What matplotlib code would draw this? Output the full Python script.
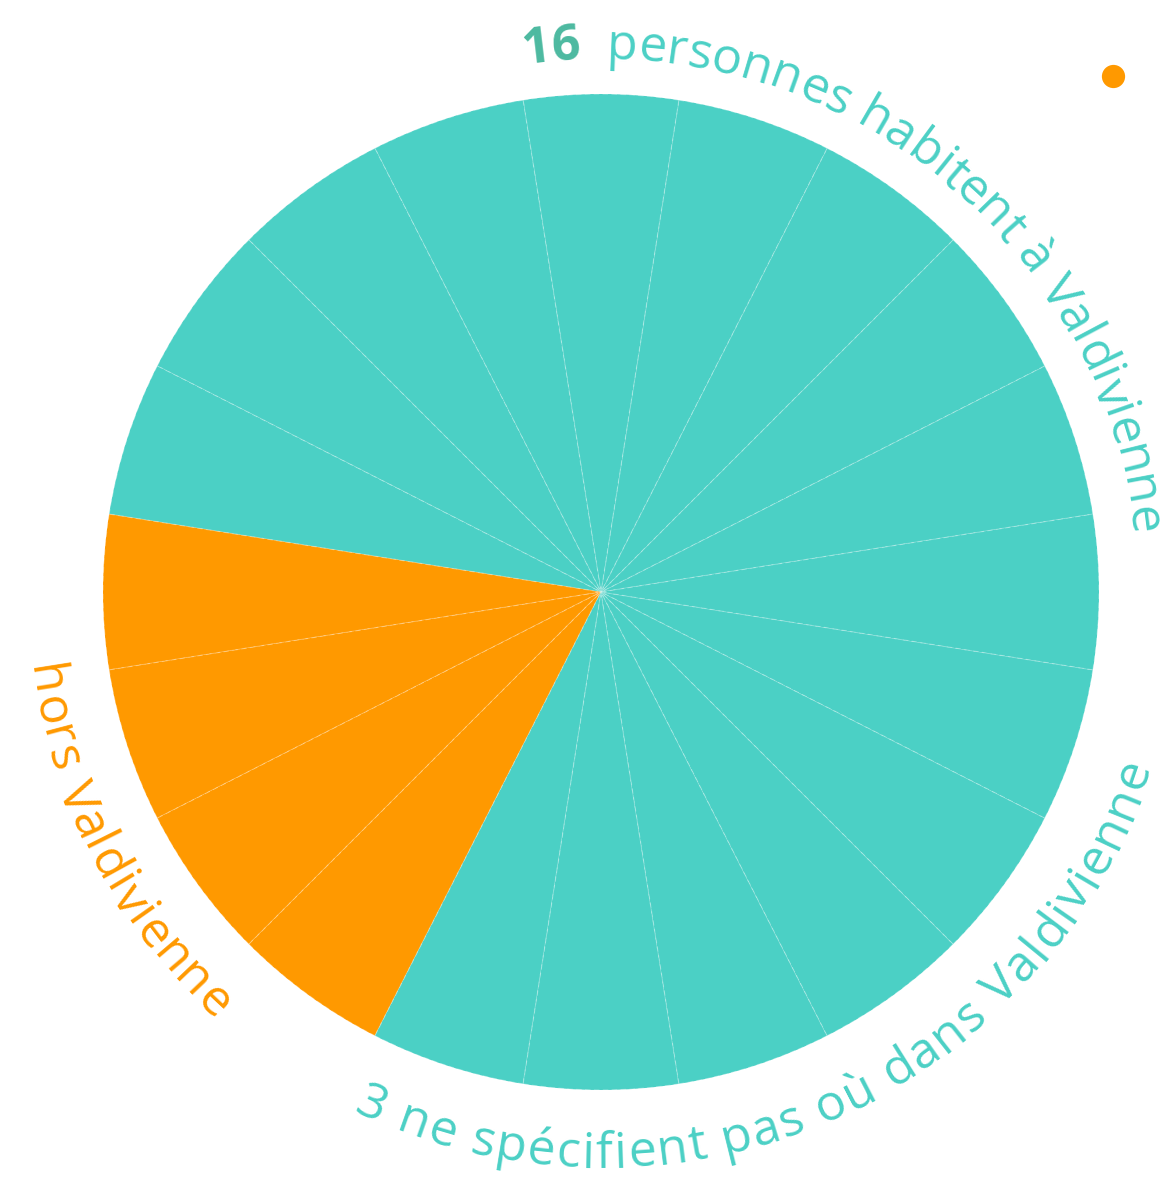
"""
Pie of 20 people (one slice each), with labels written along the rim.
"""

import math

import matplotlib
matplotlib.use("Agg")
import matplotlib.pyplot as plt
from matplotlib import font_manager
from matplotlib.font_manager import FontProperties
from matplotlib.ft2font import FT2Font

# ── data ─────────────────────────────────────────────────────────────────────

n_valdivienne = 16          # habitent à Valdivienne
n_hors = 4                  # hors Valdivienne
n_unspecified = 3           # ne spécifient pas où dans Valdivienne

# one slice per person, counter-clockwise from the 9° ray
slice_groups = ["valdi"] * 9 + ["hors"] * n_hors + ["valdi"] * (n_valdivienne - 9)
slice_values = [1] * len(slice_groups)

label_top = [(str(n_valdivienne), "num"), ("  personnes habitent à Valdivienne", "txt")]
label_left = [("hors Valdivienne", "hors")]
label_bottom = [(f"{n_unspecified} ne spécifient pas où dans Valdivienne", "txt")]

TEAL = "#4bd0c5"
ORANGE = "#ff9900"
NUM_TEAL = "#4cb9a0"
GROUP_COLORS = {"valdi": TEAL, "hors": ORANGE}
TEXT_STYLE = {"num": (NUM_TEAL, "bold"), "txt": (TEAL, 500), "hors": (ORANGE, 500)}

FAMILY = "Open Sans"
FONT_PT = 36

W, H = 1166, 1179
CX, CY = 601, H - 592
R = 498
DPI = 100


# ── helpers ──────────────────────────────────────────────────────────────────

_fonts = {}


def _advance(ch, weight):
    """Glyph advance in pixels."""
    if weight not in _fonts:
        path = font_manager.findfont(FontProperties(family=FAMILY, weight=weight))
        f = FT2Font(path)
        f.set_size(FONT_PT, 72)
        _fonts[weight] = f
    g = _fonts[weight].load_char(ord(ch))
    return g.linearHoriAdvance / 65536 * DPI / 72


def arc_text(ax, segments, theta0, theta1, radius, clockwise):
    """Lay characters along a circle; theta in degrees clockwise from 12 o'clock."""
    chars = []
    for text, style in segments:
        color, weight = TEXT_STYLE[style]
        for ch in text:
            chars.append((ch, color, weight, _advance(ch, weight)))
    natural = sum(c[3] for c in chars)
    target = math.radians(abs(theta1 - theta0)) * radius
    extra = (target - natural) / (len(chars) - 1)
    sign = 1 if clockwise else -1
    pos = 0.0
    for ch, color, weight, adv in chars:
        th = theta0 + sign * math.degrees((pos + adv / 2) / radius)
        x = CX + radius * math.sin(math.radians(th))
        y = CY + radius * math.cos(math.radians(th))
        rot = -th if clockwise else 180 - th
        if ch != " ":
            ax.text(x, y, ch, color=color, fontsize=FONT_PT, fontweight=weight,
                    family=FAMILY, ha="center", va="baseline",
                    rotation=rot, rotation_mode="anchor")
        pos += adv + extra


# ── figure ───────────────────────────────────────────────────────────────────

fig = plt.figure(figsize=(W / DPI, H / DPI), dpi=DPI)
ax = fig.add_axes([0, 0, 1, 1])

ax.pie(slice_values, colors=[GROUP_COLORS[g] for g in slice_groups],
       startangle=9, counterclock=True, radius=R, center=(CX, CY),
       wedgeprops=dict(linewidth=0.8, edgecolor=(1, 1, 1, 0.3),
                       linestyle=(0, (5, 3))))

ax.set_xlim(0, W)
ax.set_ylim(0, H)
ax.set_aspect("equal")
ax.axis("off")

arc_text(ax, label_top, -8.3, 84.0, 533, clockwise=True)
arc_text(ax, label_bottom, 205.5, 107.5, 576, clockwise=False)
arc_text(ax, label_left, 262.5, 222.0, 577, clockwise=False)

# small marker top right
ax.scatter([1113], [H - 76], s=280, color=ORANGE, linewidths=0)

fig.savefig("out.png", dpi=DPI)
